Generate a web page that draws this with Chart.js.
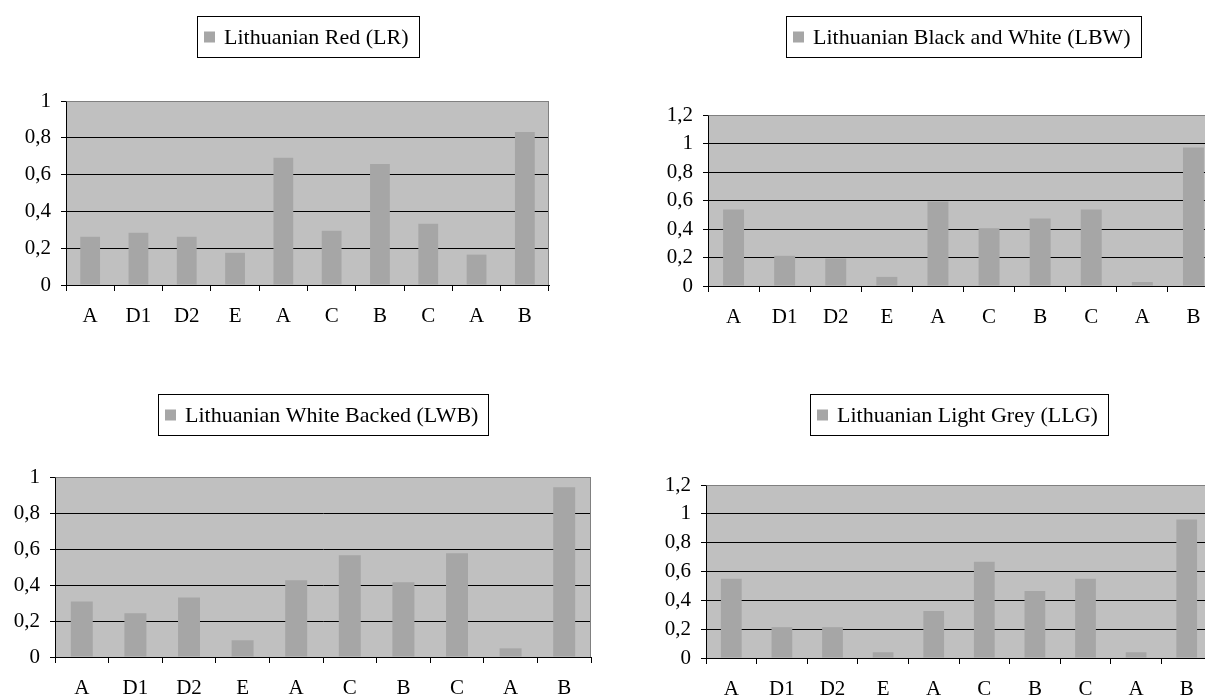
<!DOCTYPE html>
<html>
<head>
<meta charset="utf-8">
<script src="https://cdn.jsdelivr.net/npm/chart.js@4/dist/chart.umd.min.js"></script>
<style>
  html, body { margin: 0; padding: 0; background: #fff; overflow: hidden; }
  body { width: 1205px; height: 698px; position: relative; }
  canvas { position: absolute; }
</style>
</head>
<body>
<canvas id="chartLR"></canvas>
<canvas id="chartLBW"></canvas>
<canvas id="chartLWB"></canvas>
<canvas id="chartLLG"></canvas>
<script>
// categories (same for all four breeds)
var catLabels = ['A', 'D1', 'D2', 'E', 'A', 'C', 'B', 'C', 'A', 'B'];

// series values
var lrValues  = [0.262, 0.284, 0.262, 0.175, 0.691, 0.295, 0.658, 0.333, 0.165, 0.832];
var lbwValues = [0.536, 0.212, 0.193, 0.064, 0.593, 0.405, 0.473, 0.536, 0.028, 0.972];
var lwbValues = [0.309, 0.243, 0.331, 0.093, 0.426, 0.565, 0.415, 0.576, 0.048, 0.943];
var llgValues = [0.549, 0.214, 0.214, 0.040, 0.326, 0.667, 0.465, 0.549, 0.040, 0.960];

// y tick labels
var yTicksTo1  = ['0', '0,2', '0,4', '0,6', '0,8', '1'];
var yTicksTo12 = ['0', '0,2', '0,4', '0,6', '0,8', '1', '1,2'];

var seriesNames = ['Lithuanian Red (LR)', 'Lithuanian Black and White (LBW)',
                   'Lithuanian White Backed (LWB)', 'Lithuanian Light Grey (LLG)'];

var Y_AXIS_W = 60, X_AXIS_H = 42;
var serif = '"Liberation Serif", "Times New Roman", serif';

// grey plot background + grey frame on top/right
var plotFrame = {
  id: 'plotFrame',
  beforeDraw: function(chart) {
    var a = chart.chartArea, ctx = chart.ctx;
    ctx.save();
    ctx.fillStyle = '#c0c0c0';
    ctx.fillRect(a.left, a.top, a.right - a.left, a.bottom - a.top);
    ctx.restore();
  },
  afterDraw: function(chart) {
    var a = chart.chartArea, ctx = chart.ctx;
    ctx.save();
    ctx.strokeStyle = '#808080';
    ctx.lineWidth = 1;
    ctx.beginPath();
    ctx.moveTo(Math.round(a.left) + 0.5, Math.round(a.top) + 0.5);
    ctx.lineTo(Math.round(a.right) - 0.5, Math.round(a.top) + 0.5);
    ctx.lineTo(Math.round(a.right) - 0.5, Math.round(a.bottom));
    ctx.stroke();
    ctx.restore();
  }
};

// boxed legend centred over the plot
var boxLegend = {
  id: 'boxLegend',
  afterDraw: function(chart, args, opts) {
    var ctx = chart.ctx, ds = chart.data.datasets[0], a = chart.chartArea;
    ctx.save();
    ctx.font = '22px ' + serif;
    var tw = ctx.measureText(ds.label).width;
    var w = Math.round(7 + 11 + 9 + tw + 10), h = 41;
    var x = Math.round((a.left + a.right) / 2 - w / 2) + 0.5;
    var y = opts.top + 0.5;
    ctx.fillStyle = '#fff';
    ctx.fillRect(x, y, w, h);
    ctx.strokeStyle = '#000';
    ctx.lineWidth = 1;
    ctx.strokeRect(x, y, w, h);
    ctx.fillStyle = ds.backgroundColor;
    ctx.fillRect(x + 6.5, y + 15, 11, 11);
    ctx.fillStyle = '#000';
    ctx.textBaseline = 'middle';
    ctx.textAlign = 'left';
    ctx.fillText(ds.label, x + 26.5, y + h / 2 + 1);
    ctx.restore();
  }
};

function makeChart(id, box, name, values, ticks) {
  var canvas = document.getElementById(id);
  var x0 = box.left - Y_AXIS_W, y0 = box.legendTop - 10;
  canvas.style.left = x0 + 'px';
  canvas.style.top = y0 + 'px';
  canvas.width = box.right - x0 + 2;
  canvas.height = box.bottom - y0 + X_AXIS_H;
  var yMax = parseFloat(ticks[ticks.length - 1].replace(',', '.'));
  var font = { family: serif, size: 21 };

  return new Chart(canvas, {
    type: 'bar',
    data: {
      labels: catLabels,
      datasets: [{
        label: name,
        data: values,
        backgroundColor: '#a6a6a6',
        borderWidth: 0,
        categoryPercentage: 1,
        barPercentage: 0.41
      }]
    },
    options: {
      responsive: false,
      animation: false,
      devicePixelRatio: 1,
      layout: { padding: { top: box.top - y0, right: 2, left: 0, bottom: 0 } },
      plugins: {
        legend: { display: false },
        tooltip: { enabled: false },
        boxLegend: { top: box.legendTop - y0 }
      },
      scales: {
        x: {
          offset: true,
          grid: { offset: true, drawOnChartArea: false, color: '#000', tickLength: 6 },
          border: { color: '#000', width: 1 },
          ticks: { color: '#000', font: font, padding: 13, maxRotation: 0, autoSkip: false },
          afterFit: function(s) { s.height = X_AXIS_H; }
        },
        y: {
          min: 0,
          max: yMax,
          ticks: {
            stepSize: 0.2,
            color: '#000',
            font: font,
            padding: 10,
            callback: function(v, i) { return ticks[i]; }
          },
          grid: {
            color: function(c) { return c.tick && c.tick.value > yMax - 1e-6 ? '#808080' : '#000'; },
            tickColor: '#000',
            tickLength: 5,
            lineWidth: 1
          },
          border: { color: '#000', width: 1 },
          afterFit: function(s) { s.width = Y_AXIS_W; }
        }
      }
    },
    plugins: [plotFrame, boxLegend]
  });
}

makeChart('chartLR',  { left: 66,  right: 549,  top: 101, bottom: 285, legendTop: 16 },  seriesNames[0], lrValues,  yTicksTo1);
makeChart('chartLBW', { left: 708, right: 1219, top: 115, bottom: 286, legendTop: 16 },  seriesNames[1], lbwValues, yTicksTo12);
makeChart('chartLWB', { left: 55,  right: 591,  top: 477, bottom: 657, legendTop: 394 }, seriesNames[2], lwbValues, yTicksTo1);
makeChart('chartLLG', { left: 706, right: 1212, top: 485, bottom: 658, legendTop: 394 }, seriesNames[3], llgValues, yTicksTo12);
</script>
</body>
</html>
